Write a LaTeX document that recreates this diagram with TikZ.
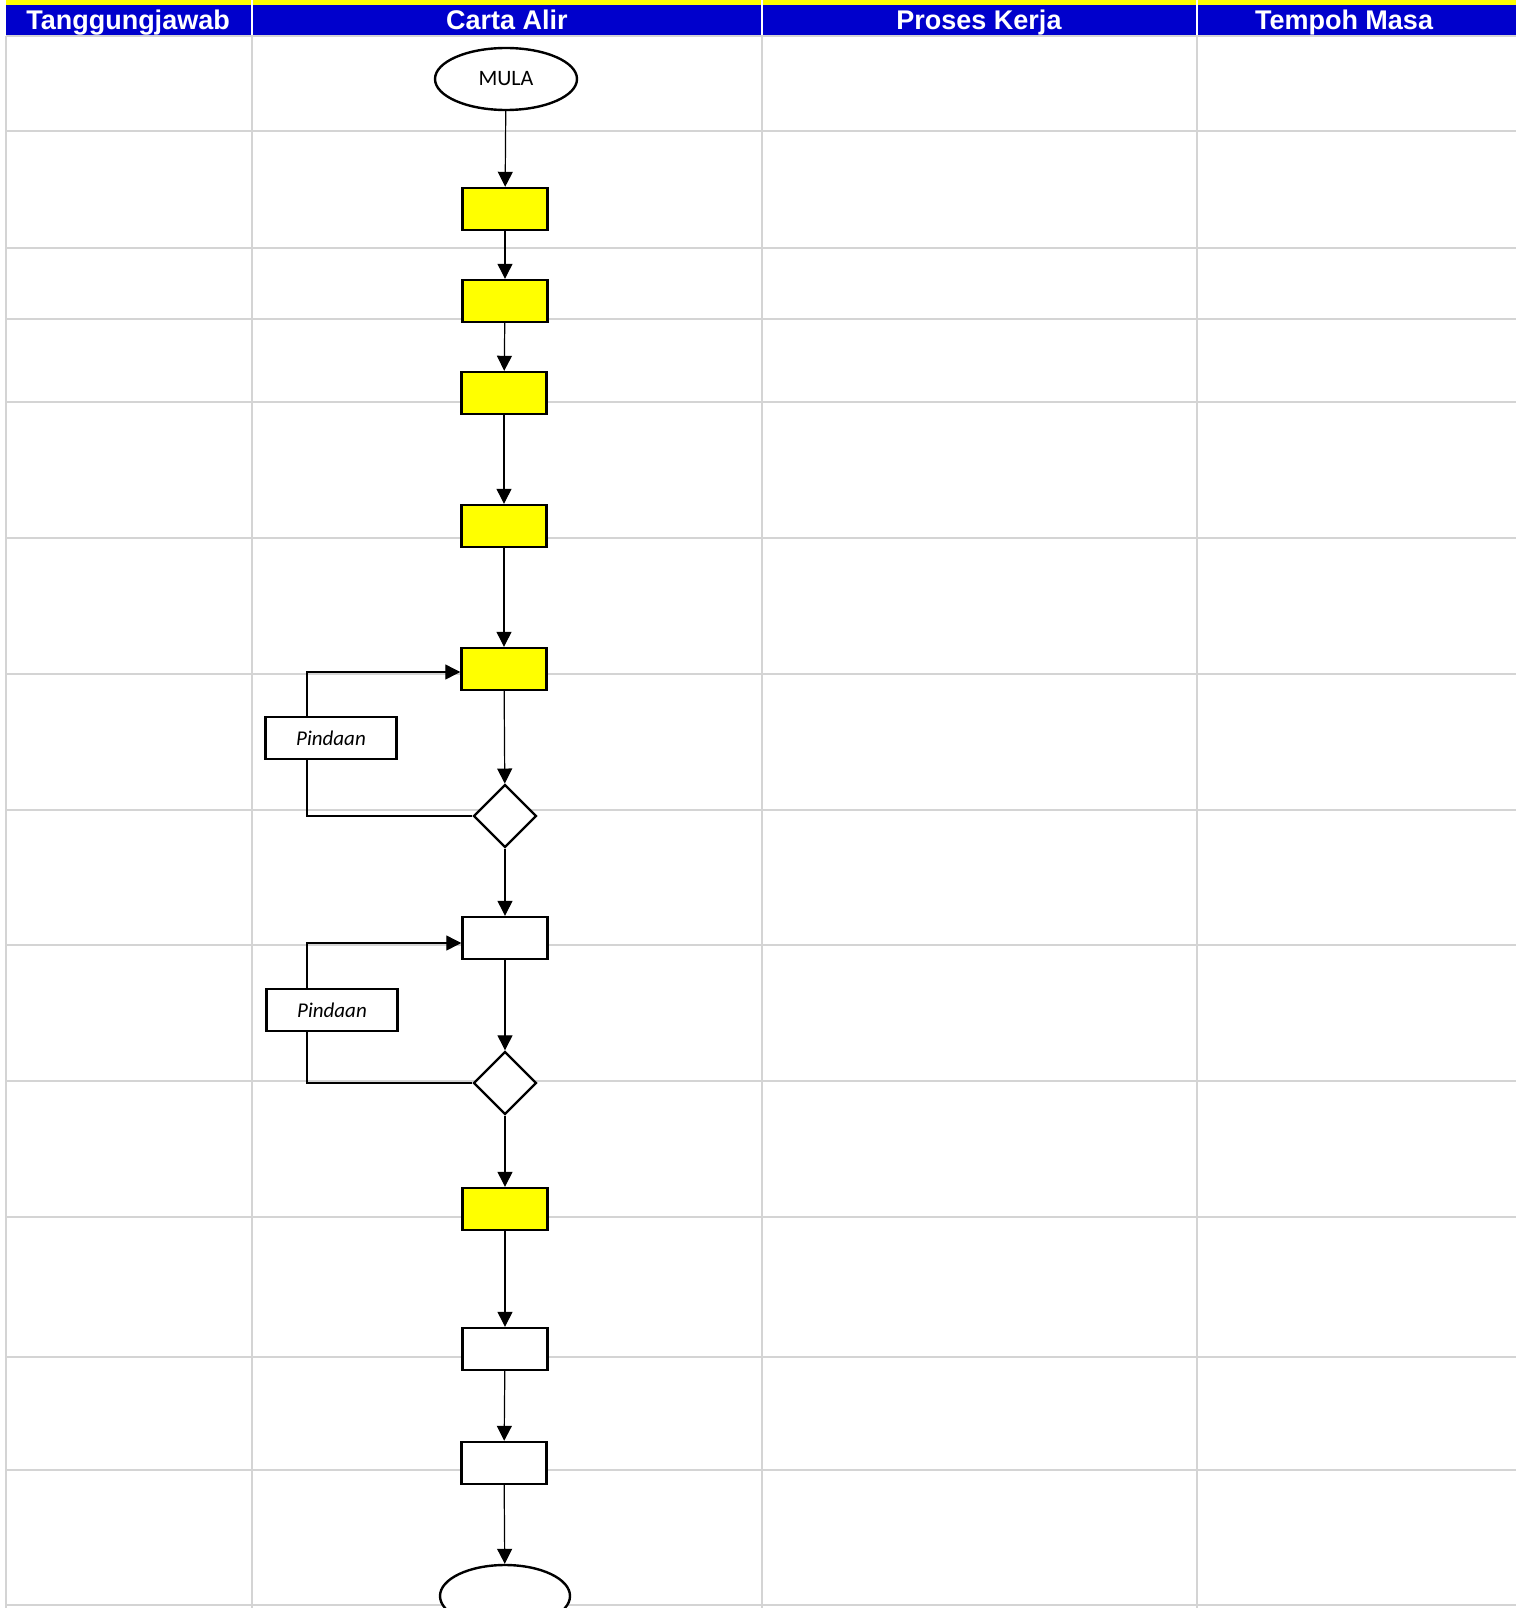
\documentclass[tikz,border=0pt]{standalone}
\usepackage{fontspec}
\setmainfont{Liberation Sans}
\newfontfamily\calibri{Carlito}
\usetikzlibrary{arrows.meta, shapes.geometric}

\definecolor{hdrblue}{RGB}{0,0,204}
\definecolor{gridgray}{RGB}{212,212,212}
\definecolor{boxyellow}{RGB}{255,255,0}

\begin{document}
\begin{tikzpicture}[x=1pt, y=-1pt, >={Triangle[length=15pt, width=15pt]}, line width=1.2pt,
  proc/.style={draw, line width=2.4pt, minimum width=85pt, minimum height=42pt, inner sep=0pt, fill=white},
  hi/.style={proc, fill=boxyellow},
  decide/.style={draw, diamond, line width=2.4pt, minimum width=63pt, minimum height=63pt, inner sep=0pt, fill=white},
  term/.style={draw, ellipse, line width=2.4pt, minimum width=142pt, minimum height=62pt, inner sep=0pt, fill=white, font=\calibri\fontsize{22}{26}\selectfont},
  note/.style={draw, line width=2.4pt, minimum width=131pt, minimum height=42pt, inner sep=0pt, fill=white, font=\calibri\itshape\fontsize{21}{24}\selectfont},
  head/.style={text=white, inner sep=0pt, anchor=base, font=\bfseries\fontsize{27}{30}\selectfont}]
  \clip (0,0) rectangle (1516,1608);
  \fill[white] (0,0) rectangle (1516,1608);

  % header band
  \fill[boxyellow] (6,0) rectangle (1516,5);
  \fill[hdrblue] (6,5) rectangle (1516,36);
  \foreach \x in {252,762,1197}
    \draw[white, line width=2pt] (\x,0) -- (\x,36);

  % table grid
  \foreach \y in {36,131,248,319,402,538,674,810,945,1081,1217,1357,1470,1605}
    \draw[gridgray, line width=1.8pt] (6,\y) -- (1516,\y);
  \foreach \x in {6,252,762,1197}
    \draw[gridgray, line width=1.8pt] (\x,36) -- (\x,1608);

  \node[head] (hResp) at (128,30) {Tanggungjawab};
  \node[head] (hChart) at (507,30) {Carta Alir};
  \node[head] (hWork) at (979,30) {Proses Kerja};
  \node[head] (hTime) at (1344,30) {Tempoh Masa};

  % flow chart
  \node[term] (mula) at (506,79) {MULA};
  \node[hi] (s1) at (505,209) {};
  \node[hi] (s2) at (505,301) {};
  \node[hi] (s3) at (504,393) {};
  \node[hi] (s4) at (504,526) {};
  \node[hi] (s5) at (504,669) {};
  \node[decide] (d1) at (505,816) {};
  \node[proc] (s6) at (505,938) {};
  \node[decide] (d2) at (505,1083) {};
  \node[hi] (s7) at (505,1209) {};
  \node[proc] (s8) at (505,1349) {};
  \node[proc] (s9) at (504,1463) {};
  \node[term, minimum width=130pt, minimum height=62pt] (tamat) at (505,1596) {};

  \node[note] (p1) at (331,738) {Pindaan};
  \node[note] (p2) at (332,1010) {Pindaan};
  \coordinate (back) at (307,0);

  \foreach \a/\b in {mula/s1, s1/s2, s2/s3, s3/s4, s4/s5, s5/d1, d1/s6, s6/d2, d2/s7, s7/s8, s8/s9, s9/tamat}
    \draw[->] (\a) -- (\b);

  % amendment loops
  \draw (d1.west) -| (back |- p1.south);
  \draw[->] (back |- p1.north) |- ([yshift=-3pt]s5.west);
  \draw (d2.west) -| (back |- p2.south);
  \draw[->] (back |- p2.north) |- ([yshift=-5pt]s6.west);
\end{tikzpicture}
\end{document}
